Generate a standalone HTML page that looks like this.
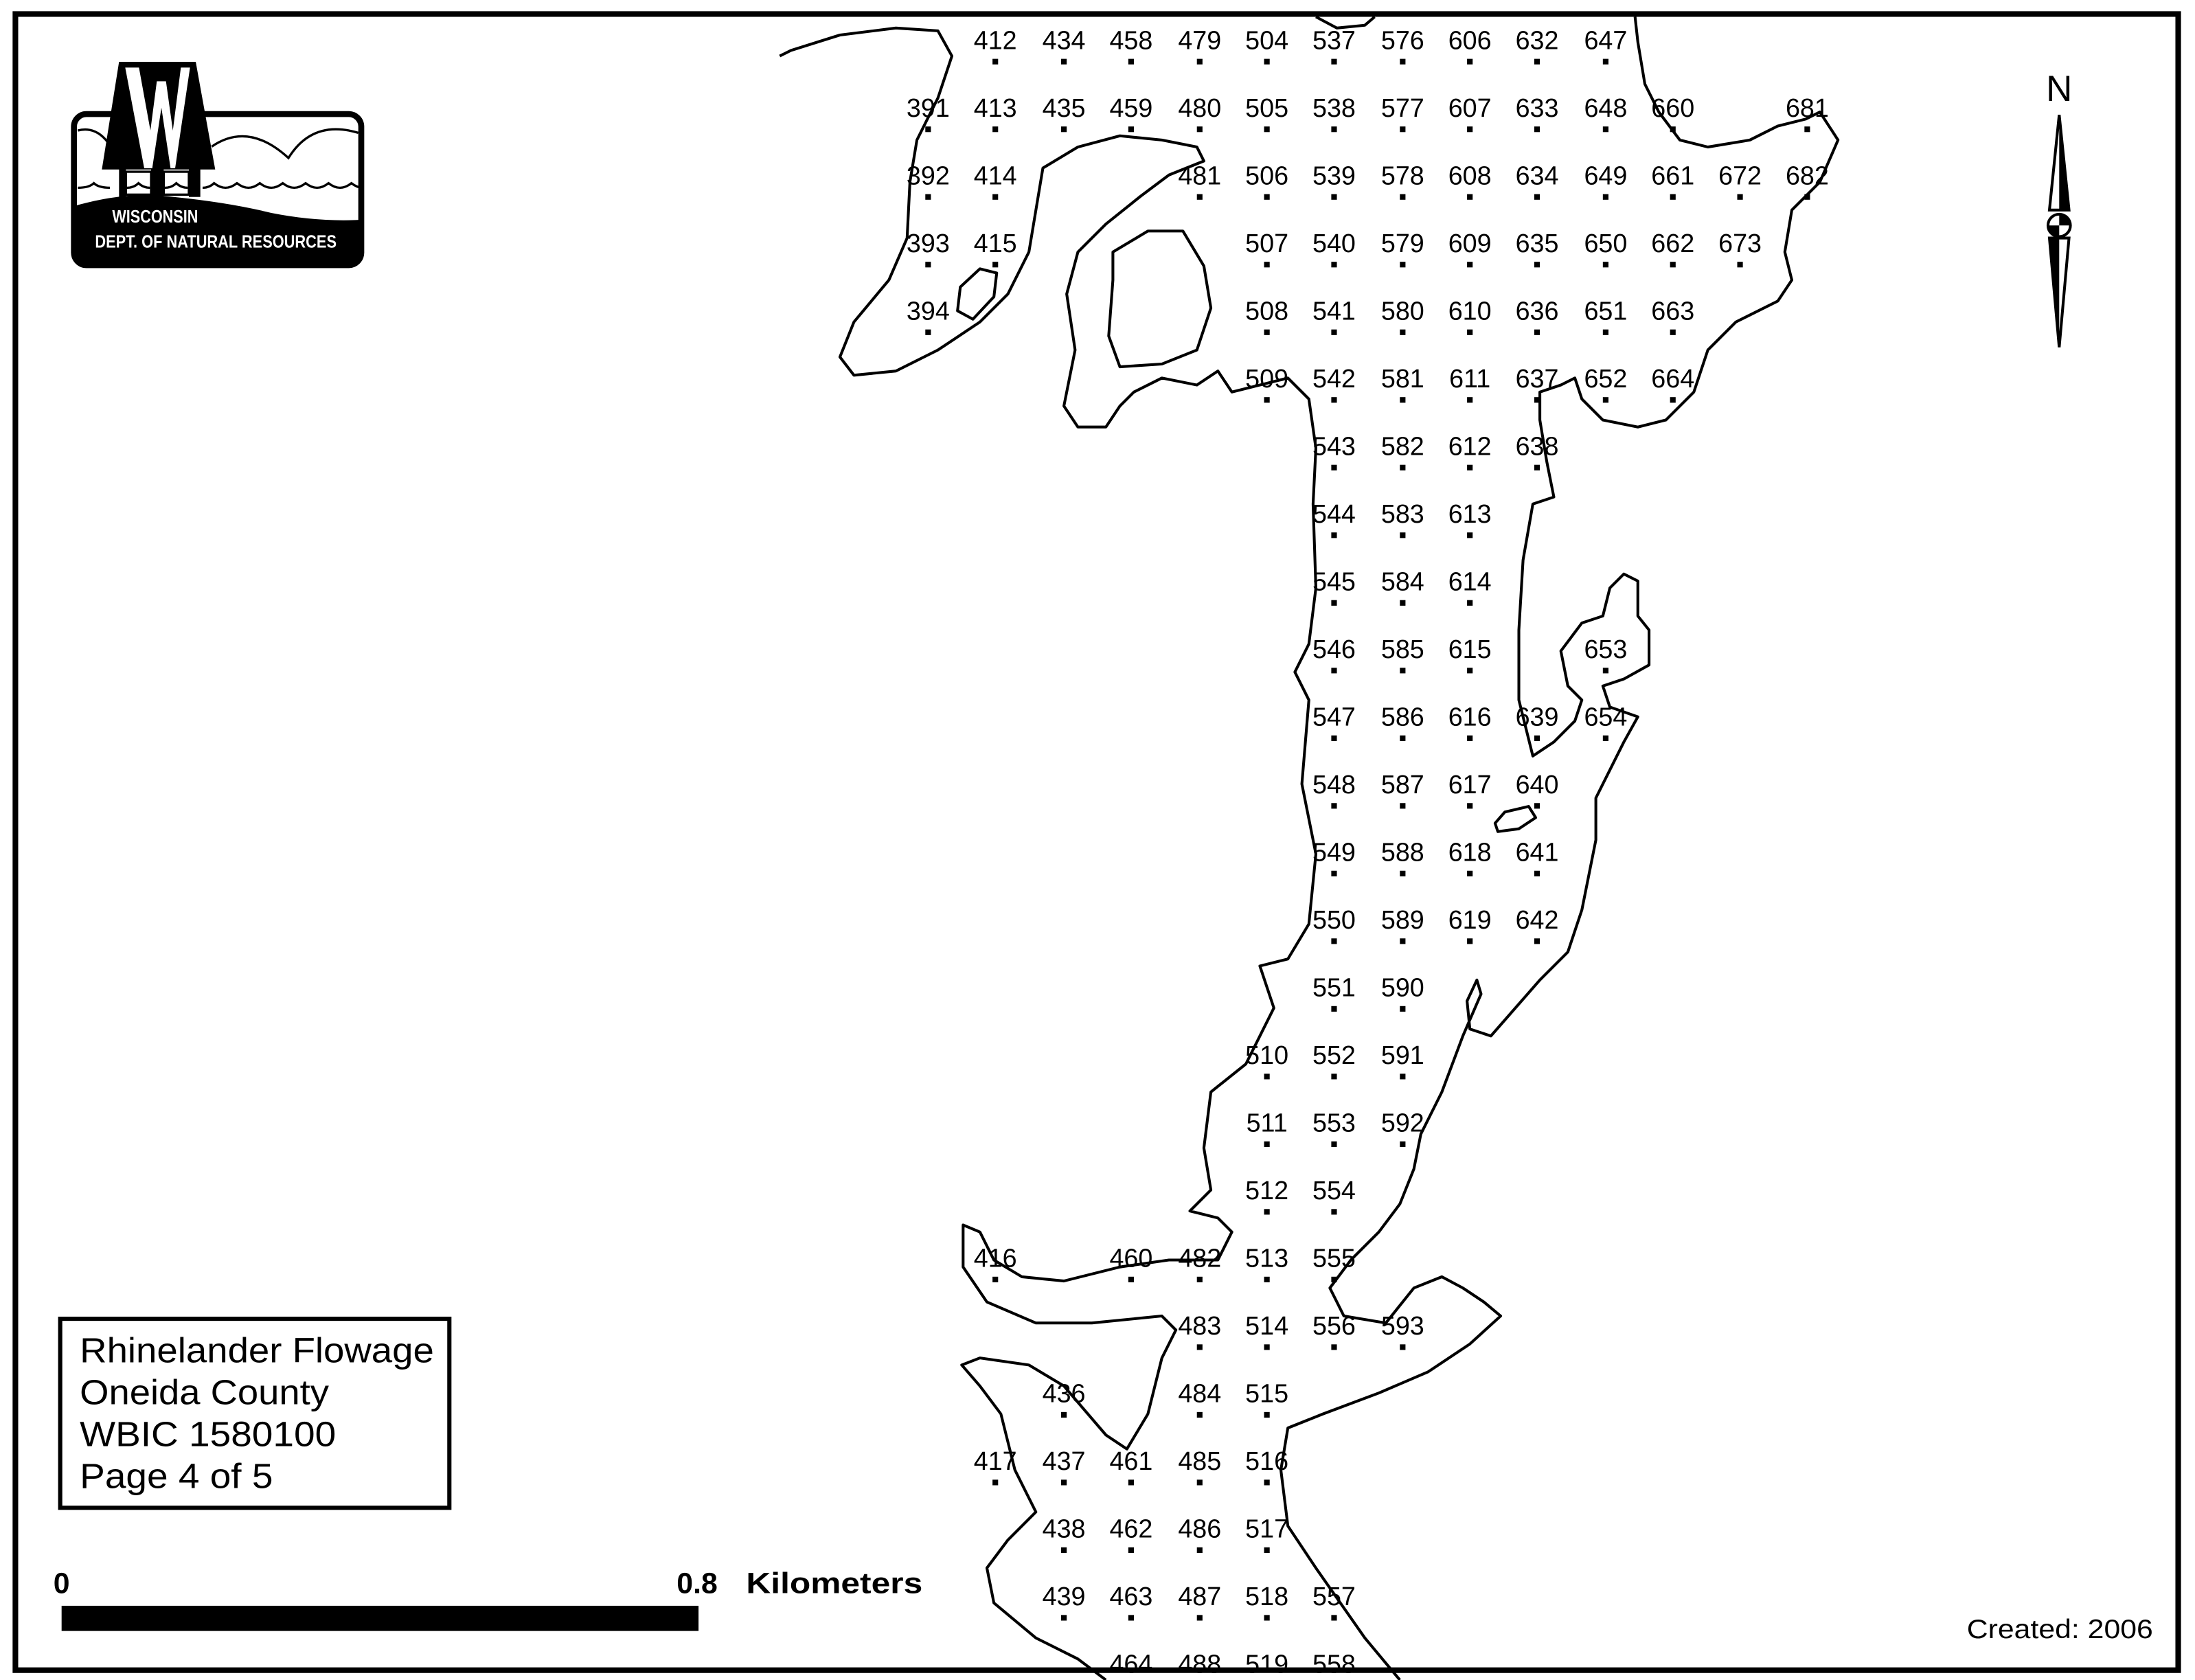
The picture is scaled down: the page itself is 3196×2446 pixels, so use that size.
<!DOCTYPE html>
<html><head><meta charset="utf-8"><style>
html,body{margin:0;padding:0;background:#fff}
svg{display:block}
text{font-family:"Liberation Sans",Arial,sans-serif}
</style></head><body>
<svg width="3196" height="2446" viewBox="0 0 1568 1200" xmlns="http://www.w3.org/2000/svg">
<rect x="0" y="0" width="1568" height="1200" fill="#fff"/>
<rect x="11" y="10" width="1545" height="1183" fill="none" stroke="#000" stroke-width="4"/>

<g fill="none" stroke="#000" stroke-width="2" stroke-linejoin="round">
<path d="M557,40 L565,36 600,25 640,20 670,22 680,40 670,70 655,100 650,130 648,170 635,200 610,230 600,255 610,268 640,265 670,250 700,230 720,210 735,180 740,150 745,120 770,105 800,97 830,100 855,105 860,115 835,125 815,140 790,160 770,180 762,210 768,250 760,290 770,305 790,305 800,290 810,280 830,270 855,275 870,265 880,280 900,275 920,270 935,285 940,320 938,360 940,420 935,460 925,480 935,500 930,560 940,610 935,660 920,685 900,690 910,720 890,760 865,780 860,820 865,850 850,865 870,870 880,880 870,900 835,900 800,905 760,915 730,912 710,900 700,880 688,875 688,905 705,930 740,945 780,945 830,940 840,950 830,970 820,1010 805,1035 790,1025 760,990 735,975 700,970 687,975 700,990 715,1010 725,1050 740,1080 720,1100 705,1120 710,1145 740,1170 770,1185 790,1200"/>
<path d="M1000,1200 L975,1170 940,1120 920,1090 915,1050 920,1020 945,1010 985,995 1020,980 1050,960 1072,940 1060,930 1045,920 1030,912 1010,920 990,945 960,940 950,920 965,900 985,880 1000,860 1010,835 1015,810 1030,780 1045,740 1058,710 1055,700 1048,715 1050,735 1065,740 1100,700 1120,680 1130,650 1140,600 1140,570 1160,530 1170,512 1150,505 1145,490 1160,485 1178,475 1178,450 1170,440 1170,415 1160,410 1150,420 1145,440 1130,445 1115,465 1120,490 1130,500 1125,515 1110,530 1095,540 1085,500 1085,450 1088,400 1095,360 1110,355 1105,330 1100,300 1100,280 1115,275 1125,270 1130,285 1145,300 1170,305 1190,300 1210,280 1220,250 1240,230 1270,215 1280,200 1275,180 1280,150 1300,130 1313,100 1300,80 1290,85 1270,90 1250,100 1220,105 1200,100 1185,80 1175,60 1170,30 1168,12"/>
<path d="M940,12 L955,20 975,18 982,12"/>
<path d="M795,180 L820,165 845,165 860,190 865,220 855,250 830,260 800,262 792,240 795,200 Z"/>
<path d="M686,205 L700,192 712,195 710,212 695,228 684,222 Z"/>
<path d="M1068,588 L1075,580 1092,576 1097,584 1085,592 1070,594 Z"/>
</g>

<g font-size="18.5" fill="#000" text-anchor="middle" id="labels"></g>

<!-- logo (coords in zoom space) -->
<g transform="translate(46.61,39.25) scale(0.16354)">
<rect x="38" y="258" width="1255" height="660" rx="55" fill="#fff" stroke="#000" stroke-width="26"/>
<path d="M55,330 Q130,310 185,380" fill="none" stroke="#000" stroke-width="10"/>
<path d="M640,400 Q800,290 975,450 Q1080,280 1280,340" fill="none" stroke="#000" stroke-width="10"/>
<path d="M55,580 q50,0 70,-20 q20,20 70,20 M270,580 q30,0 50,-20 q20,20 50,20 M435,580 q30,0 50,-20 q20,20 50,20 M600,580 q30,0 50,-20 q25,20 50,20 q25,0 50,-20 q25,20 50,20 q25,0 50,-20 q25,20 50,20 q25,0 50,-20 q25,20 50,20 q25,0 50,-20 q25,20 50,20 q25,0 50,-20 q25,20 50,20 q25,0 50,-20 q25,20 50,20" fill="none" stroke="#000" stroke-width="10"/>
<path d="M38,660 Q250,600 420,615 Q700,640 900,690 Q1100,730 1293,720 L1293,860 Q1293,918 1235,918 L95,918 Q38,918 38,860 Z" fill="#000"/>
<path d="M235,30 L570,30 L655,500 L160,500 Z" fill="#000"/>
<path d="M262,55 L322,55 L372,330 L400,115 L440,115 L470,330 L505,55 L545,55 L480,495 L460,495 L420,230 L380,495 L345,495 Z" fill="#fff"/>
<rect x="235" y="495" width="30" height="125" fill="#000"/>
<rect x="375" y="495" width="55" height="125" fill="#000"/>
<rect x="540" y="495" width="50" height="125" fill="#000"/>
<rect x="265" y="510" width="110" height="100" fill="none" stroke="#000" stroke-width="10"/>
<rect x="430" y="510" width="110" height="100" fill="none" stroke="#000" stroke-width="10"/>
<text x="205" y="732" font-size="78" font-weight="bold" fill="#fff" textLength="375" lengthAdjust="spacingAndGlyphs">WISCONSIN</text>
<text x="130" y="842" font-size="78" font-weight="bold" fill="#fff" textLength="1055" lengthAdjust="spacingAndGlyphs">DEPT. OF NATURAL RESOURCES</text>
</g>

<!-- north arrow -->
<g>
<text x="1471" y="72" font-size="26" text-anchor="middle">N</text>
<path d="M1471,82 L1478,150 L1464,150 Z" fill="#fff" stroke="#000" stroke-width="2"/>
<path d="M1471,82 L1478,150 L1471,150 Z" fill="#000"/>
<path d="M1471,248 L1478,170 L1464,170 Z" fill="#fff" stroke="#000" stroke-width="2"/>
<path d="M1471,248 L1464,170 L1471,170 Z" fill="#000"/>
<circle cx="1471" cy="161" r="8" fill="#fff" stroke="#000" stroke-width="2"/>
<path d="M1471,153 A8,8 0 0 1 1479,161 L1471,161Z M1471,169 A8,8 0 0 1 1463,161 L1471,161Z" fill="#000"/>
</g>

<!-- info box -->
<rect x="43" y="942" width="278" height="135" fill="#fff" stroke="#000" stroke-width="3"/>
<g font-size="25">
<text x="57" y="973" textLength="253" lengthAdjust="spacingAndGlyphs">Rhinelander Flowage</text>
<text x="57" y="1003" textLength="178" lengthAdjust="spacingAndGlyphs">Oneida County</text>
<text x="57" y="1033" textLength="183" lengthAdjust="spacingAndGlyphs">WBIC 1580100</text>
<text x="57" y="1063" textLength="138" lengthAdjust="spacingAndGlyphs">Page 4 of 5</text>
</g>

<!-- scale bar -->
<rect x="44" y="1147" width="455" height="18" fill="#000"/>
<text x="44" y="1138" font-size="21" font-weight="bold" text-anchor="middle">0</text>
<text x="498" y="1138" font-size="21" font-weight="bold" text-anchor="middle">0.8</text>
<text x="533" y="1138" font-size="21" font-weight="bold" textLength="126" lengthAdjust="spacingAndGlyphs">Kilometers</text>
<text x="1538" y="1170" font-size="19" text-anchor="end" textLength="133" lengthAdjust="spacingAndGlyphs">Created: 2006</text>
</svg>
<script>
(function(){
var cols={663:[[391,1],[392,2],[393,3],[394,4]],
711:[[412,0],[413,1],[414,2],[415,3],[416,18],[417,21]],
760:[[434,0],[435,1],[436,20],[437,21],[438,22],[439,23]],
808:[[458,0],[459,1],[460,18],[461,21],[462,22],[463,23],[464,24]],
857:[[479,0],[480,1],[481,2],[482,18],[483,19],[484,20],[485,21],[486,22],[487,23],[488,24]],
905:[],953:[],1002:[],1050:[],1098:[],1147:[],1195:[],1243:[[672,2],[673,3]],1291:[[681,1],[682,2]]};
function seq(x,start,r0,n){for(var i=0;i<n;i++)cols[x].push([start+i,r0+i]);}
seq(905,504,0,6);seq(905,510,15,10);
seq(953,537,0,20);seq(953,557,23,2);
seq(1002,576,0,17);cols[1002].push([593,19]);
seq(1050,606,0,14);
seq(1098,632,0,7);seq(1098,639,10,4);
seq(1147,647,0,6);cols[1147].push([653,9],[654,10]);
seq(1195,660,1,5);
var xs=[663,711,760,808,857,905,953,1002,1050,1098,1147,1195,1243,1291];
var g=document.getElementById('labels'),h='';
xs.forEach(function(x){cols[x].forEach(function(p){var y=29+p[1]*48.33;
h+='<text x="'+x+'" y="'+(y+6)+'">'+p[0]+'</text><rect x="'+(x-2)+'" y="'+(y+13)+'" width="4" height="4" fill="#000"/>';});});
g.innerHTML=h;
})();
</script>
</body></html>
